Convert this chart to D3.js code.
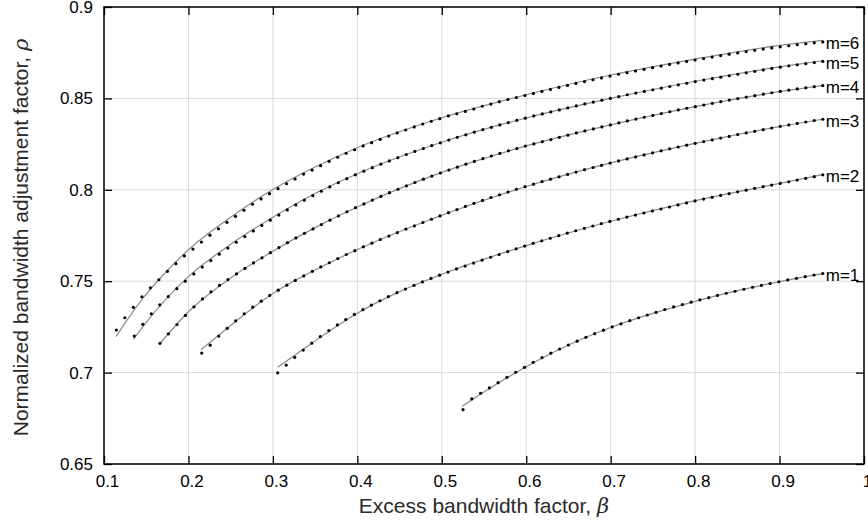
<!DOCTYPE html>
<html>
<head>
<meta charset="utf-8">
<script src="https://cdn.jsdelivr.net/npm/d3@7"></script>
<style>
  body { margin: 0; background: #fff; }
  svg { display: block; }
</style>
</head>
<body>
<svg id="chart"></svg>
<script>
const width = 868;
const height = 525;
const margin = { top: 7, right: 4, bottom: 61, left: 104 };

// axes
const xTicks = [0.1, 0.2, 0.3, 0.4, 0.5, 0.6, 0.7, 0.8, 0.9, 1];
const xTickLabels = ["0.1", "0.2", "0.3", "0.4", "0.5", "0.6", "0.7", "0.8", "0.9", "1"];
const yTicks = [0.65, 0.7, 0.75, 0.8, 0.85, 0.9];
const yTickLabels = ["0.65", "0.7", "0.75", "0.8", "0.85", "0.9"];

// curves, m = 1..6
const curveNames = ["m=1", "m=2", "m=3", "m=4", "m=5", "m=6"];
// first and last beta of the dotted samples
const betaRange = [
  [0.5252, 0.9512], [0.3057, 0.9512], [0.2157, 0.9512],
  [0.1663, 0.9512], [0.1359, 0.9512], [0.1146, 0.9512]
];

// sampled points (dots)
const rho1 = [0.6797,0.6856,0.6887,0.6916,0.6945,0.6974,0.7002,0.7029,0.7056,0.7082,
  0.7106,0.7129,0.7151,0.7172,0.7193,0.7213,0.7232,0.7250,0.7267,0.7284,
  0.7300,0.7315,0.7330,0.7345,0.7359,0.7372,0.7385,0.7398,0.7410,0.7422,
  0.7434,0.7445,0.7456,0.7467,0.7477,0.7487,0.7497,0.7507,0.7516,0.7525,
  0.7534,0.7542];
const rho2 = [0.6999,0.7041,0.7083,0.7123,0.7161,0.7197,0.7230,0.7261,0.7290,0.7318,
  0.7344,0.7369,0.7393,0.7416,0.7437,0.7457,0.7477,0.7496,0.7515,0.7533,
  0.7550,0.7567,0.7583,0.7599,0.7615,0.7631,0.7646,0.7662,0.7677,0.7692,
  0.7707,0.7721,0.7735,0.7749,0.7763,0.7776,0.7789,0.7802,0.7815,0.7827,
  0.7839,0.7851,0.7862,0.7873,0.7884,0.7895,0.7906,0.7917,0.7928,0.7939,
  0.7949,0.7959,0.7969,0.7979,0.7989,0.7998,0.8008,0.8017,0.8026,0.8035,
  0.8044,0.8053,0.8062,0.8072,0.8082];
const rho3 = [0.7107,0.7150,0.7200,0.7242,0.7283,0.7322,0.7358,0.7391,0.7422,0.7451,
  0.7478,0.7504,0.7529,0.7554,0.7578,0.7601,0.7624,0.7646,0.7667,0.7688,
  0.7708,0.7728,0.7747,0.7766,0.7785,0.7803,0.7821,0.7839,0.7857,0.7875,
  0.7892,0.7909,0.7926,0.7942,0.7958,0.7973,0.7988,0.8003,0.8017,0.8031,
  0.8045,0.8058,0.8071,0.8084,0.8097,0.8110,0.8122,0.8134,0.8146,0.8158,
  0.8169,0.8180,0.8191,0.8202,0.8213,0.8224,0.8234,0.8244,0.8254,0.8264,
  0.8273,0.8283,0.8292,0.8302,0.8311,0.8320,0.8329,0.8338,0.8347,0.8355,
  0.8363,0.8371,0.8379,0.8386];
const rho4 = [0.7160,0.7212,0.7263,0.7313,0.7360,0.7403,0.7442,0.7477,0.7509,0.7540,
  0.7570,0.7600,0.7628,0.7656,0.7684,0.7711,0.7737,0.7762,0.7786,0.7810,
  0.7834,0.7857,0.7880,0.7902,0.7923,0.7944,0.7964,0.7984,0.8003,0.8022,
  0.8040,0.8058,0.8075,0.8092,0.8108,0.8124,0.8140,0.8155,0.8170,0.8185,
  0.8199,0.8213,0.8226,0.8239,0.8251,0.8263,0.8275,0.8287,0.8299,0.8311,
  0.8322,0.8333,0.8344,0.8355,0.8366,0.8377,0.8387,0.8397,0.8407,0.8417,
  0.8427,0.8437,0.8446,0.8455,0.8464,0.8473,0.8482,0.8491,0.8499,0.8507,
  0.8515,0.8523,0.8531,0.8538,0.8545,0.8552,0.8558,0.8564,0.8570];
const rho5 = [0.7200,0.7264,0.7322,0.7371,0.7416,0.7459,0.7500,0.7540,0.7577,0.7613,
  0.7648,0.7681,0.7713,0.7744,0.7775,0.7805,0.7834,0.7862,0.7890,0.7917,
  0.7943,0.7968,0.7992,0.8016,0.8039,0.8061,0.8082,0.8102,0.8121,0.8140,
  0.8158,0.8176,0.8193,0.8210,0.8226,0.8242,0.8257,0.8272,0.8287,0.8301,
  0.8315,0.8329,0.8342,0.8355,0.8368,0.8380,0.8392,0.8404,0.8415,0.8426,
  0.8437,0.8448,0.8459,0.8470,0.8480,0.8490,0.8500,0.8510,0.8520,0.8529,
  0.8538,0.8547,0.8556,0.8565,0.8574,0.8583,0.8592,0.8600,0.8608,0.8616,
  0.8624,0.8632,0.8640,0.8648,0.8656,0.8664,0.8671,0.8678,0.8684,0.8690,
  0.8696,0.8702];
const rho6 = [0.7233,0.7300,0.7357,0.7415,0.7464,0.7508,0.7554,0.7596,0.7638,0.7676,
  0.7714,0.7752,0.7787,0.7822,0.7855,0.7888,0.7921,0.7950,0.7979,0.8006,
  0.8033,0.8059,0.8086,0.8108,0.8132,0.8156,0.8178,0.8200,0.8219,0.8240,
  0.8258,0.8276,0.8294,0.8311,0.8327,0.8344,0.8360,0.8375,0.8389,0.8404,
  0.8416,0.8429,0.8442,0.8457,0.8469,0.8482,0.8494,0.8505,0.8516,0.8527,
  0.8538,0.8549,0.8560,0.8571,0.8582,0.8592,0.8602,0.8612,0.8622,0.8632,
  0.8641,0.8650,0.8659,0.8668,0.8677,0.8686,0.8694,0.8702,0.8710,0.8718,
  0.8726,0.8734,0.8742,0.8749,0.8756,0.8763,0.8770,0.8776,0.8782,0.8788,
  0.8794,0.8799,0.8804,0.8809];

// fitted curves (grey lines)
const fitBeta1 = [0.524, 0.556, 0.6, 0.65, 0.7, 0.75, 0.8, 0.85, 0.9, 0.951];
const fitRho1  = [0.6816, 0.6912, 0.7032, 0.7151, 0.7247, 0.7324, 0.7390, 0.7448, 0.7498, 0.7542];
const fitBeta2 = [0.3057, 0.33, 0.36, 0.4, 0.45, 0.5, 0.6, 0.7, 0.8, 0.9, 0.951];
const fitRho2  = [0.7029, 0.7108, 0.7205, 0.7325, 0.7443, 0.7538, 0.7695, 0.7828, 0.7941, 0.8035, 0.8083];
const fitBeta3 = [0.2149, 0.25, 0.3, 0.35, 0.4, 0.5, 0.6, 0.7, 0.8, 0.9, 0.951];
const fitRho3  = [0.7125, 0.7258, 0.7433, 0.7561, 0.7673, 0.7861, 0.8018, 0.8147, 0.8254, 0.8346, 0.8386];
const fitBeta4 = [0.1655, 0.2, 0.25, 0.3, 0.35, 0.4, 0.5, 0.6, 0.7, 0.8, 0.9, 0.951];
const fitRho4  = [0.7155, 0.7333, 0.7518, 0.7664, 0.7793, 0.7906, 0.8095, 0.8240, 0.8355, 0.8455, 0.8537, 0.8570];
const fitBeta5 = [0.1348, 0.15, 0.2, 0.25, 0.3, 0.35, 0.4, 0.5, 0.6, 0.7, 0.8, 0.9, 0.951];
const fitRho5  = [0.7182, 0.7275, 0.7525, 0.7702, 0.7850, 0.7980, 0.8088, 0.8260, 0.8393, 0.8500, 0.8594, 0.8672, 0.8706];
const fitBeta6 = [0.1142, 0.13, 0.145, 0.1648, 0.2, 0.25, 0.3, 0.35, 0.4, 0.5, 0.6, 0.7, 0.8, 0.9, 0.951];
const fitRho6  = [0.7197, 0.7305, 0.7400, 0.7508, 0.7672, 0.7850, 0.8002, 0.8125, 0.8230, 0.8394, 0.8520, 0.8628, 0.8715, 0.8790, 0.8817];

const dotRhos = [rho1, rho2, rho3, rho4, rho5, rho6];
const fitBetas = [fitBeta1, fitBeta2, fitBeta3, fitBeta4, fitBeta5, fitBeta6];
const fitRhos = [fitRho1, fitRho2, fitRho3, fitRho4, fitRho5, fitRho6];

const series = curveNames.map((name, k) => {
  const [b0, b1] = betaRange[k];
  const n = dotRhos[k].length;
  return {
    name,
    dots: dotRhos[k].map((r, i) => ({ b: b0 + (b1 - b0) * i / (n - 1), r })),
    fit: fitBetas[k].map((b, i) => ({ b, r: fitRhos[k][i] }))
  };
});

const x = d3.scaleLinear().domain([0.1, 1]).range([margin.left, width - margin.right]);
const y = d3.scaleLinear().domain([0.65, 0.9]).range([height - margin.bottom, margin.top]);

const svg = d3.select("#chart")
  .attr("width", width)
  .attr("height", height)
  .style("font-family", "'Liberation Sans', Arial, Helvetica, sans-serif");

svg.append("rect").attr("width", width).attr("height", height).attr("fill", "#fff");

// grid
svg.append("g")
  .selectAll("line")
  .data(xTicks)
  .join("line")
  .attr("x1", d => x(d)).attr("x2", d => x(d))
  .attr("y1", y(0.65)).attr("y2", y(0.9))
  .attr("stroke", "#d9d9d9").attr("stroke-width", 1);
svg.append("g")
  .selectAll("line")
  .data(yTicks)
  .join("line")
  .attr("x1", x(0.1)).attr("x2", x(1))
  .attr("y1", d => y(d)).attr("y2", d => y(d))
  .attr("stroke", "#d9d9d9").attr("stroke-width", 1);

// fitted lines
const line = d3.line()
  .x(d => x(d.b))
  .y(d => y(d.r))
  .curve(d3.curveMonotoneX);

svg.append("g")
  .selectAll("path")
  .data(series)
  .join("path")
  .attr("d", d => line(d.fit))
  .attr("fill", "none")
  .attr("stroke", "#8a8a8a")
  .attr("stroke-width", 1.2);

// dots
svg.append("g")
  .selectAll("g")
  .data(series)
  .join("g")
  .selectAll("circle")
  .data(d => d.dots)
  .join("circle")
  .attr("cx", d => x(d.b))
  .attr("cy", d => y(d.r))
  .attr("r", 1.6)
  .attr("fill", "#000");

// curve labels
svg.append("g")
  .selectAll("text")
  .data(series)
  .join("text")
  .attr("x", d => x(d.dots[d.dots.length - 1].b) + 3)
  .attr("y", d => y(d.dots[d.dots.length - 1].r) + 1.5)
  .attr("dy", "0.35em")
  .attr("font-size", 17)
  .attr("fill", "#000")
  .text(d => d.name);

// axes, ticks pointing inward on all four sides
const tickLen = 8;
const xAxis = svg.append("g")
  .attr("transform", `translate(0,${y(0.65)})`)
  .call(d3.axisBottom(x).tickValues(xTicks)
    .tickFormat((d, i) => xTickLabels[i])
    .tickSizeInner(-tickLen).tickSizeOuter(0).tickPadding(11));
xAxis.selectAll("text").attr("x", 3);

svg.append("g")
  .attr("transform", `translate(0,${y(0.9)})`)
  .call(d3.axisTop(x).tickValues(xTicks).tickFormat("")
    .tickSizeInner(-tickLen).tickSizeOuter(0));

svg.append("g")
  .attr("transform", `translate(${x(0.1)},0)`)
  .call(d3.axisLeft(y).tickValues(yTicks)
    .tickFormat((d, i) => yTickLabels[i])
    .tickSizeInner(-tickLen).tickSizeOuter(0).tickPadding(11));

svg.append("g")
  .attr("transform", `translate(${x(1)},0)`)
  .call(d3.axisRight(y).tickValues(yTicks).tickFormat("")
    .tickSizeInner(-tickLen).tickSizeOuter(0));

svg.selectAll(".domain").remove();
svg.selectAll(".tick line").attr("stroke", "#000").attr("stroke-width", 1.3);
svg.selectAll(".tick text")
  .attr("font-size", 17)
  .attr("font-family", "'Liberation Sans', Arial, Helvetica, sans-serif")
  .attr("fill", "#000");

// frame
svg.append("rect")
  .attr("x", x(0.1)).attr("y", y(0.9))
  .attr("width", x(1) - x(0.1)).attr("height", y(0.65) - y(0.9))
  .attr("fill", "none").attr("stroke", "#000").attr("stroke-width", 1.5);

// axis titles
const xTitle = svg.append("text")
  .attr("x", (x(0.1) + x(1)) / 2)
  .attr("y", 513)
  .attr("text-anchor", "middle")
  .attr("font-size", 21)
  .attr("fill", "#2a2a2a");
xTitle.append("tspan").text("Excess bandwidth factor, ");
xTitle.append("tspan").attr("font-style", "italic").attr("font-family", "'DejaVu Serif', serif").text("β");

const yTitle = svg.append("text")
  .attr("transform", `translate(28,${(y(0.65) + y(0.9)) / 2 + 2}) rotate(-90)`)
  .attr("text-anchor", "middle")
  .attr("font-size", 21)
  .attr("fill", "#2a2a2a");
yTitle.append("tspan").text("Normalized bandwidth adjustment factor, ");
yTitle.append("tspan").attr("font-style", "italic").attr("font-family", "'DejaVu Serif', serif").text("ρ");
</script>
</body>
</html>
